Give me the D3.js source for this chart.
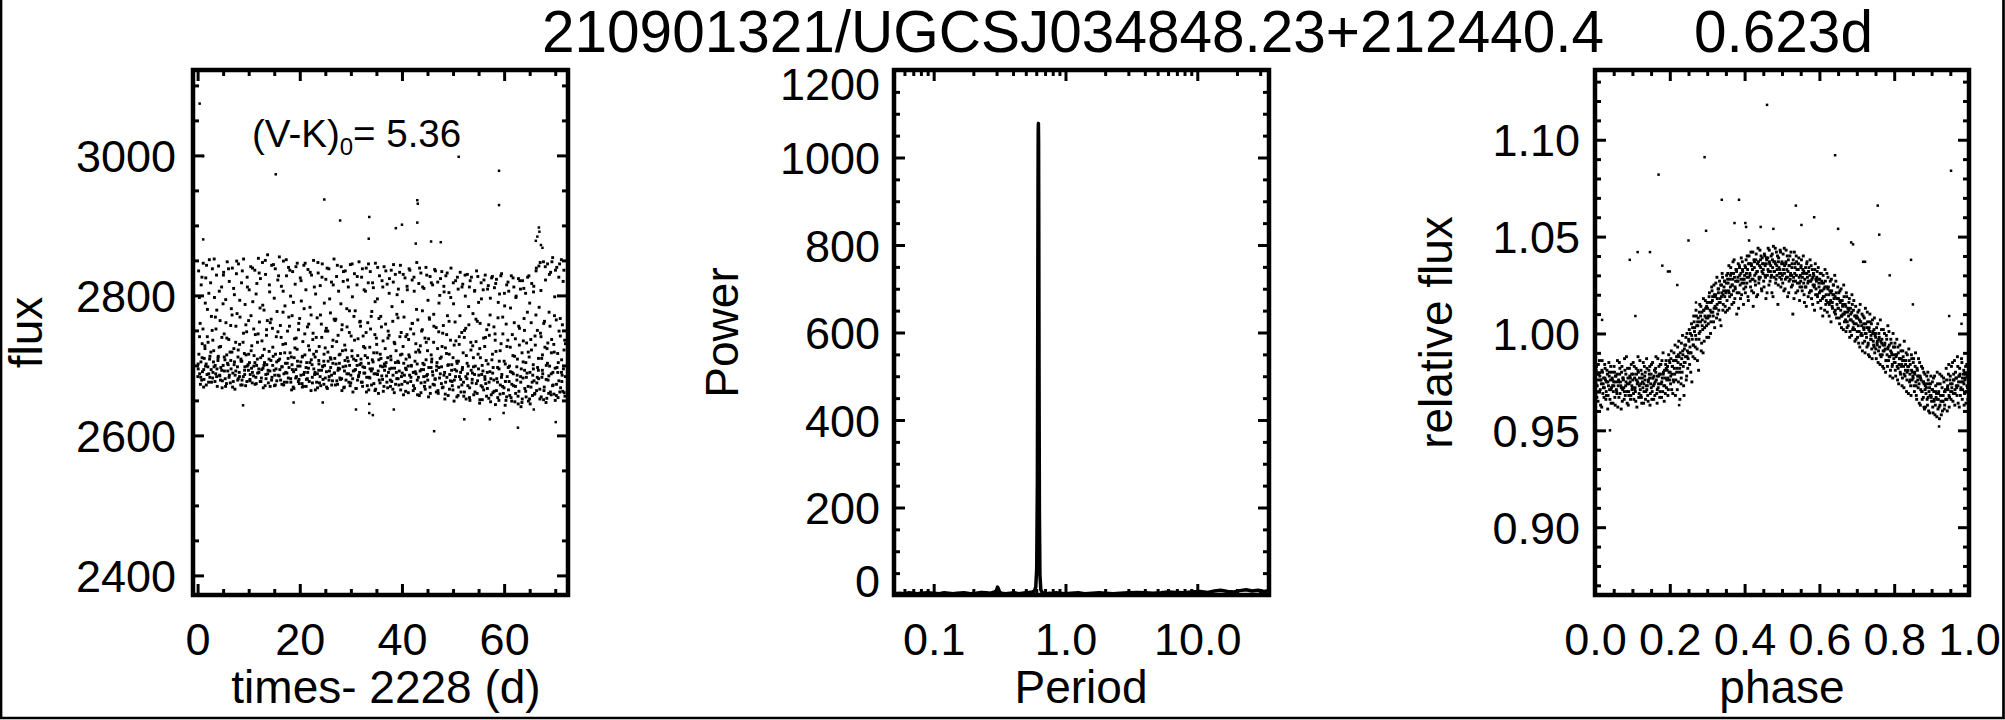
<!DOCTYPE html>
<html><head><meta charset="utf-8">
<script src="https://cdn.jsdelivr.net/npm/d3@7"></script>
<style>
html,body{margin:0;padding:0;background:#fff;}
svg{display:block;}
</style></head><body>
<svg id="c" width="2005" height="720"></svg>
<script>
// ---------- text ----------
const titleId = "210901321/UGCSJ034848.23+212440.4";
const titlePeriod = "0.623d";
const colorIndex = "5.36";

// ---------- panel 1: light curve (time - 2228 d, flux) ----------
const lcTicksX = [0, 20, 40, 60];
const lcMinorX = [5,10,15,25,30,35,45,50,55,65,70];
const lcTicksY = [2400, 2600, 2800, 3000];
const lcMinorY = [2450,2500,2550,2650,2700,2750,2850,2900,2950,3050,3100];
const lcPoints = [
[0.1,2702],[0.2,2835],[0.4,2688],[0.5,2760],[0.7,2815],[0.8,2679],[0.9,2731],[1.1,2846],[1.2,2694],[1.3,2710],[1.5,2789],[1.6,2825],[1.7,2672],[1.9,2741],[2.0,2698],[2.2,2803],[2.3,2851],[2.4,2683],[2.6,2719],[2.7,2770],[2.9,2838],[3.0,2690],[3.1,2705],[3.3,2797],[3.4,2677],[3.6,2752],[3.7,2829],[3.8,2695],[4.0,2711],[4.1,2842],[4.3,2686],[4.4,2764],[4.5,2727],[4.7,2812],[4.8,2668],[5.0,2700],[5.1,2833],[5.2,2745],[5.4,2681],[5.5,2794],[5.7,2715],[5.8,2848],[5.9,2692],[6.1,2737],[6.2,2820],[6.4,2675],[6.5,2707],[6.6,2781],[6.8,2839],[6.9,2689],[7.1,2724],[7.2,2801],[7.3,2666],[7.5,2756],[7.6,2831],[7.8,2698],[7.9,2712],[8.0,2845],[8.2,2684],[8.3,2769],[8.5,2706],[8.6,2818],[8.7,2679],[8.9,2733],[9.0,2852],[9.2,2693],[9.3,2787],[9.4,2671],[9.6,2748],[9.7,2826],[9.9,2701],[10.0,2716],
[10.1,2808],[10.3,2687],[10.4,2841],[10.6,2728],[10.7,2675],[10.8,2791],[11.0,2699],[11.2,2836],[11.3,2744],[11.4,2683],[11.6,2817],[11.7,2709],[11.9,2853],[12.0,2690],[12.1,2762],[12.3,2824],[12.4,2677],[12.6,2735],[12.7,2847],[12.8,2696],[13.0,2779],[13.1,2704],[13.3,2830],[13.4,2681],[13.5,2751],[13.7,2858],[13.8,2693],[14.0,2720],[14.1,2805],[14.2,2670],[14.4,2766],[14.5,2843],[14.7,2700],[14.8,2713],[15.0,2796],[15.1,2686],[15.2,2838],[15.4,2741],[15.5,2678],[15.7,2822],[15.8,2707],[16.0,2855],[16.1,2694],[16.2,2757],[16.4,2813],[16.5,2673],[16.7,2730],[16.8,2849],[16.9,2688],[17.1,2785],[17.2,2703],[17.4,2828],[17.5,2676],[17.6,2749],[17.8,2840],[17.9,2697],[18.1,2718],[18.2,2799],[18.4,2665],[18.5,2771],[18.6,2834],[18.8,2691],[18.9,2711],[19.1,2816],[19.2,2682],[19.3,2739],[19.5,2846],[19.6,2699],[19.8,2760],[19.9,2674],
[20.1,2825],[20.2,2705],[20.3,2792],[20.5,2669],[20.6,2734],[20.8,2843],[20.9,2690],[21.0,2715],[21.2,2808],[21.3,2680],[21.5,2755],[21.6,2837],[21.7,2696],[21.9,2722],[22.0,2783],[22.2,2664],[22.3,2829],[22.4,2701],[22.6,2746],[22.7,2850],[22.9,2687],[23.0,2712],[23.1,2802],[23.3,2676],[23.4,2768],[23.6,2832],[23.7,2693],[23.8,2727],[24.0,2814],[24.1,2671],[24.3,2740],[24.4,2845],[24.5,2698],[24.7,2706],[24.8,2789],[25.0,2682],[25.1,2823],[25.2,2753],[25.4,2667],[25.5,2719],[25.7,2838],[25.8,2692],[26.0,2775],[26.1,2709],[26.2,2819],[26.4,2678],[26.5,2736],[26.7,2852],[26.8,2689],[26.9,2764],[27.1,2702],[27.2,2827],[27.4,2673],[27.5,2743],[27.6,2806],[27.8,2695],[27.9,2716],[28.1,2841],[28.2,2681],[28.3,2758],[28.5,2820],[28.6,2668],[28.8,2729],[28.9,2835],[29.0,2699],[29.2,2781],[29.3,2711],[29.5,2812],[29.6,2676],[29.7,2747],[29.9,2844],
[30.0,2686],[30.2,2721],[30.3,2798],[30.4,2662],[30.6,2770],[30.7,2831],[30.9,2694],[31.0,2707],[31.2,2815],[31.3,2679],[31.4,2738],[31.6,2848],[31.7,2690],[31.9,2756],[32.0,2703],[32.1,2826],[32.3,2670],[32.4,2742],[32.6,2808],[32.7,2697],[32.8,2714],[33.0,2839],[33.1,2683],[33.3,2761],[33.4,2818],[33.5,2665],[33.7,2726],[33.8,2834],[34.0,2692],[34.1,2777],[34.2,2708],[34.4,2811],[34.5,2674],[34.7,2744],[34.8,2846],[34.9,2688],[35.1,2718],[35.2,2795],[35.4,2660],[35.5,2767],[35.6,2828],[35.8,2699],[35.9,2710],[36.1,2821],[36.2,2680],[36.3,2735],[36.5,2841],[36.6,2693],[36.8,2759],[36.9,2704],[37.1,2816],[37.2,2668],[37.3,2749],[37.5,2803],[37.6,2695],[37.8,2713],[37.9,2836],[38.0,2677],[38.2,2763],[38.3,2819],[38.5,2661],[38.6,2731],[38.7,2830],[38.9,2690],[39.0,2773],[39.2,2706],[39.3,2809],[39.4,2672],[39.6,2741],[39.7,2843],[39.9,2684],
[40.0,2716],[40.1,2791],[40.3,2658],[40.4,2769],[40.6,2825],[40.7,2696],[40.8,2709],[41.0,2813],[41.1,2675],[41.3,2737],[41.4,2838],[41.5,2686],[41.7,2752],[41.8,2700],[42.0,2822],[42.2,2664],[42.3,2745],[42.4,2806],[42.6,2691],[42.7,2719],[42.9,2847],[43.0,2679],[43.1,2765],[43.3,2817],[43.4,2657],[43.6,2728],[43.7,2832],[43.8,2694],[44.0,2778],[44.1,2703],[44.3,2810],[44.4,2670],[44.5,2739],[44.7,2840],[44.8,2685],[45.0,2721],[45.1,2793],[45.2,2655],[45.4,2766],[45.5,2827],[45.7,2697],[45.8,2705],[46.0,2815],[46.1,2673],[46.2,2733],[46.4,2837],[46.5,2681],[46.7,2754],[46.8,2699],[47.0,2819],[47.1,2660],[47.2,2748],[47.4,2800],[47.5,2688],[47.7,2712],[47.8,2834],[47.9,2668],[48.1,2757],[48.2,2813],[48.4,2652],[48.5,2725],[48.6,2828],[48.8,2683],[48.9,2771],[49.1,2701],[49.2,2804],[49.3,2666],[49.5,2736],[49.6,2839],[49.8,2677],
[50.0,2711],[50.1,2788],[50.2,2649],[50.4,2762],[50.5,2821],[50.7,2692],[50.8,2703],[51.0,2809],[51.1,2669],[51.2,2730],[51.4,2833],[51.5,2680],[51.7,2747],[51.8,2694],[51.9,2816],[52.1,2656],[52.2,2740],[52.4,2799],[52.5,2684],[52.6,2714],[52.8,2830],[52.9,2671],[53.1,2758],[53.2,2812],[53.3,2650],[53.5,2722],[53.6,2826],[53.8,2689],[53.9,2774],[54.0,2698],[54.2,2806],[54.3,2662],[54.5,2734],[54.6,2835],[54.8,2678],[54.9,2716],[55.0,2790],[55.2,2646],[55.3,2760],[55.5,2818],[55.6,2687],[55.7,2700],[55.9,2808],[56.0,2665],[56.2,2727],[56.3,2829],[56.4,2674],[56.6,2751],[56.7,2690],[56.9,2814],[57.0,2653],[57.1,2743],[57.3,2796],[57.4,2681],[57.6,2708],[57.7,2827],[57.8,2661],[58.0,2755],[58.1,2811],[58.3,2644],[58.4,2720],[58.5,2823],[58.7,2676],[58.8,2768],[59.0,2695],[59.1,2802],[59.2,2659],[59.4,2731],[59.5,2831],[59.7,2670],
[60.0,2706],[60.1,2785],[60.2,2643],[60.4,2759],[60.5,2815],[60.6,2684],[60.8,2697],[60.9,2806],[61.1,2657],[61.2,2726],[61.4,2828],[61.5,2673],[61.6,2744],[61.8,2688],[61.9,2812],[62.1,2648],[62.2,2738],[62.3,2797],[62.5,2679],[62.6,2709],[62.8,2824],[62.9,2663],[63.0,2753],[63.2,2809],[63.3,2641],[63.5,2718],[63.6,2821],[63.7,2682],[63.9,2767],[64.0,2693],[64.2,2803],[64.3,2655],[64.4,2732],[64.6,2826],[64.7,2670],[64.9,2712],[65.0,2789],[65.1,2645],[65.3,2761],[65.4,2817],[65.6,2686],[65.7,2701],[65.8,2813],[66.0,2660],[66.1,2729],[66.3,2839],[66.4,2675],[66.5,2750],[66.7,2693],[66.8,2842],[67.0,2652],[67.1,2746],[67.2,2807],[67.4,2683],[67.5,2715],[67.7,2848],[67.8,2664],[67.9,2763],[68.1,2822],[68.2,2647],[68.4,2724],[68.5,2845],[68.6,2679],[68.8,2776],[68.9,2699],[69.1,2833],[69.2,2658],[69.3,2737],[69.5,2854],[69.6,2672],[69.8,2719],[69.9,2798],[70.0,2650],[70.2,2765],[70.3,2840],[70.5,2690],[70.6,2704],[70.7,2826],[70.9,2662],[71.0,2742],[71.2,2851],[71.3,2677],[71.4,2758],[71.6,2695],[71.7,2836],[71.9,2656],[72.0,2731],
[0.05,2684],[0.25,2716],[0.35,2797],[0.55,2673],[0.65,2705],[0.85,2826],[0.95,2691],[1.05,2752],[1.25,2680],[1.45,2724],[1.55,2699],[1.75,2843],[1.85,2687],[2.05,2733],[2.15,2676],[2.35,2709],[2.55,2818],[2.65,2694],[2.85,2750],[2.95,2682],[3.15,2721],[3.25,2852],[3.45,2700],[3.55,2688],[3.75,2779],[3.85,2670],[4.05,2713],[4.25,2806],[4.35,2685],[4.55,2697],[4.75,2740],[4.85,2678],[5.05,2829],[5.25,2692],[5.35,2708],[5.55,2761],[5.65,2674],[5.85,2703],[6.05,2838],[6.15,2683],[6.35,2719],[6.55,2695],[6.75,2772],[6.85,2669],[7.05,2810],[7.15,2701],[7.35,2686],[7.45,2733],[7.65,2849],[7.85,2679],[7.95,2722],[8.15,2690],[8.25,2793],[8.45,2672],[8.65,2706],[8.75,2835],[8.95,2684],[9.15,2717],[9.25,2698],[9.45,2758],[9.65,2677],[9.75,2812],[9.95,2693],
[10.15,2704],[10.25,2680],[10.45,2771],[10.55,2696],[10.75,2839],[10.95,2685],[11.05,2714],[11.25,2673],[11.45,2802],[11.55,2700],[11.75,2689],[11.85,2745],[12.05,2832],[12.25,2677],[12.35,2711],[12.55,2694],[12.75,2786],[12.85,2668],[13.05,2723],[13.25,2850],[13.35,2687],[13.55,2701],[13.65,2764],[13.85,2675],[14.05,2815],[14.15,2692],[14.35,2707],[14.55,2683],[14.65,2753],[14.85,2844],[15.05,2671],[15.25,2716],[15.35,2695],[15.55,2777],[15.75,2686],[15.85,2828],[16.05,2709],[16.25,2679],[16.35,2740],[16.55,2698],[16.75,2806],[16.85,2672],[17.05,2718],[17.25,2690],[17.35,2851],[17.55,2703],[17.75,2682],[17.85,2769],[18.05,2836],[18.25,2676],[18.35,2712],[18.55,2694],[18.75,2790],[18.85,2667],[19.05,2725],[19.25,2841],[19.35,2684],[19.55,2706],[19.75,2751],[19.85,2680],
[20.05,2699],[20.25,2821],[20.45,2674],[20.55,2713],[20.75,2687],[20.85,2781],[21.05,2846],[21.25,2670],[21.35,2704],[21.55,2690],[21.75,2759],[21.85,2677],[22.05,2833],[22.25,2708],[22.45,2683],[22.55,2737],[22.75,2695],[22.85,2812],[23.05,2665],[23.25,2720],[23.45,2688],[23.55,2847],[23.75,2702],[23.85,2675],[24.05,2772],[24.25,2693],[24.35,2826],[24.55,2680],[24.75,2716],[24.85,2700],[25.05,2749],[25.25,2669],[25.35,2839],[25.55,2706],[25.75,2684],[25.85,2795],[26.05,2697],[26.25,2672],[26.35,2727],[26.55,2815],[26.75,2689],[26.85,2710],[27.05,2766],[27.25,2678],[27.35,2843],[27.55,2696],[27.75,2703],[27.85,2682],[28.05,2788],[28.25,2664],[28.35,2721],[28.55,2834],[28.75,2692],[28.85,2707],[29.05,2679],[29.25,2755],[29.35,2822],[29.55,2688],[29.75,2700],[29.85,2671],
[30.05,2742],[30.25,2845],[30.35,2681],[30.55,2709],[30.75,2693],[30.85,2778],[31.05,2667],[31.25,2827],[31.35,2714],[31.55,2686],[31.75,2701],[31.85,2763],[32.05,2676],[32.25,2838],[32.35,2698],[32.55,2689],[32.75,2725],[32.85,2806],[33.05,2662],[33.25,2711],[33.45,2845],[33.55,2683],[33.75,2695],[33.85,2752],[34.05,2672],[34.25,2818],[34.35,2705],[34.55,2688],[34.75,2791],[34.85,2666],[35.05,2730],[35.25,2840],[35.35,2692],[35.55,2679],[35.75,2716],[35.85,2770],[36.05,2685],[36.25,2812],[36.35,2663],[36.55,2702],[36.75,2699],[36.85,2835],[37.05,2676],[37.25,2739],[37.35,2690],[37.55,2824],[37.75,2670],[37.85,2708],[38.05,2784],[38.25,2686],[38.35,2844],[38.55,2696],[38.75,2673],[38.85,2721],[39.05,2801],[39.25,2681],[39.35,2704],[39.55,2833],[39.75,2665],[39.85,2747],
[40.05,2689],[40.25,2830],[40.35,2703],[40.55,2677],[40.75,2741],[40.85,2694],[41.05,2808],[41.25,2661],[41.35,2715],[41.55,2836],[41.75,2683],[41.85,2699],[42.05,2760],[42.25,2671],[42.35,2826],[42.55,2706],[42.75,2688],[42.85,2780],[43.05,2658],[43.25,2722],[43.45,2839],[43.55,2692],[43.75,2675],[43.85,2749],[44.05,2812],[44.25,2684],[44.35,2701],[44.55,2666],[44.75,2733],[44.85,2829],[45.05,2679],[45.25,2697],[45.35,2768],[45.55,2660],[45.75,2818],[45.85,2709],[46.05,2686],[46.25,2756],[46.35,2672],[46.55,2835],[46.75,2693],[46.85,2704],[47.05,2664],[47.25,2789],[47.35,2682],[47.55,2824],[47.75,2698],[47.85,2727],[48.05,2669],[48.25,2805],[48.35,2690],[48.55,2676],[48.75,2744],[48.85,2832],[49.05,2657],[49.25,2716],[49.35,2687],[49.55,2797],[49.75,2701],[49.85,2671],
[50.05,2818],[50.25,2679],[50.35,2694],[50.55,2735],[50.75,2655],[50.85,2826],[51.05,2706],[51.25,2684],[51.35,2771],[51.55,2662],[51.75,2812],[51.85,2697],[52.05,2676],[52.25,2750],[52.35,2829],[52.55,2652],[52.75,2703],[52.85,2688],[53.05,2784],[53.25,2668],[53.35,2821],[53.55,2693],[53.75,2680],[53.85,2728],[54.05,2658],[54.25,2807],[54.35,2699],[54.55,2674],[54.75,2763],[54.85,2827],[55.05,2686],[55.25,2651],[55.35,2711],[55.55,2795],[55.75,2669],[55.85,2692],[56.05,2822],[56.25,2680],[56.35,2740],[56.55,2656],[56.75,2809],[56.85,2702],[57.05,2676],[57.25,2772],[57.35,2648],[57.55,2825],[57.75,2689],[57.85,2697],[58.05,2663],[58.25,2736],[58.35,2817],[58.55,2681],[58.75,2654],[58.85,2790],[59.05,2706],[59.25,2672],[59.35,2828],[59.55,2687],[59.75,2745],[59.85,2660],
[60.05,2803],[60.25,2677],[60.35,2650],[60.55,2727],[60.75,2819],[60.85,2665],[61.05,2699],[61.25,2782],[61.35,2654],[61.55,2690],[61.75,2825],[61.85,2671],[62.05,2713],[62.25,2660],[62.35,2799],[62.55,2686],[62.75,2645],[62.85,2756],[63.05,2821],[63.25,2676],[63.35,2695],[63.55,2652],[63.75,2735],[63.85,2810],[64.05,2667],[64.25,2704],[64.35,2683],[64.55,2776],[64.75,2649],[64.85,2828],[65.05,2690],[65.25,2669],[65.35,2722],[65.55,2657],[65.75,2805],[65.85,2678],[66.05,2742],[66.25,2835],[66.35,2664],[66.55,2697],[66.75,2681],[66.85,2783],[67.05,2847],[67.25,2655],[67.35,2710],[67.55,2688],[67.75,2760],[67.85,2669],[68.05,2841],[68.25,2700],[68.35,2653],[68.55,2732],[68.75,2685],[68.85,2830],[69.05,2662],[69.25,2718],[69.35,2848],[69.55,2690],[69.75,2659],[69.85,2771],[70.05,2836],[70.25,2673],[70.35,2697],[70.55,2654],[70.75,2749],[70.85,2845],[71.05,2668],[71.25,2708],[71.35,2686],[71.55,2820],[71.75,2661],[71.85,2736],
[0.12,2695],[0.38,2741],[0.62,2683],[0.88,2711],[1.18,2669],[1.42,2728],[1.68,2702],[1.92,2780],[2.18,2688],[2.42,2713],[2.72,2676],[2.98,2736],[3.22,2698],[3.48,2769],[3.72,2684],[3.98,2707],[4.22,2726],[4.48,2679],[4.72,2693],[4.98,2788],[5.22,2712],[5.48,2670],[5.72,2739],[5.98,2701],[6.22,2686],[6.48,2757],[6.72,2719],[6.98,2677],[7.22,2705],[7.48,2692],[7.72,2774],[7.98,2681],[8.22,2730],[8.48,2709],[8.72,2672],[8.98,2746],[9.22,2687],[9.48,2715],[9.72,2699],[9.98,2764],
[10.22,2678],[10.48,2721],[10.72,2690],[10.98,2752],[11.22,2704],[11.48,2674],[11.72,2733],[11.98,2695],[12.22,2782],[12.48,2682],[12.72,2714],[12.98,2700],[13.22,2671],[13.48,2743],[13.72,2688],[13.98,2709],[14.22,2761],[14.48,2679],[14.72,2726],[14.98,2693],[15.22,2672],[15.48,2705],[15.72,2748],[15.98,2685],[16.22,2717],[16.48,2698],[16.72,2776],[16.98,2676],[17.22,2731],[17.48,2689],[17.72,2710],[17.98,2756],[18.22,2681],[18.48,2701],[18.72,2669],[18.98,2738],[19.22,2694],[19.48,2723],[19.72,2677],[19.98,2767],
[20.22,2686],[20.48,2712],[20.72,2670],[20.98,2745],[21.22,2697],[21.48,2681],[21.72,2728],[21.98,2704],[22.22,2772],[22.48,2675],[22.72,2716],[22.98,2690],[23.22,2740],[23.48,2668],[23.72,2707],[23.98,2684],[24.22,2759],[24.48,2699],[24.72,2673],[24.98,2725],[25.22,2691],[25.48,2749],[25.72,2679],[25.98,2711],[26.22,2686],[26.48,2703],[26.72,2766],[26.98,2672],[27.22,2734],[27.48,2693],[27.72,2715],[27.98,2680],[28.22,2751],[28.48,2698],[28.72,2669],[28.98,2722],[29.22,2688],[29.48,2706],[29.72,2778],[29.98,2675],
[30.22,2713],[30.48,2692],[30.72,2736],[30.98,2667],[31.22,2700],[31.48,2684],[31.72,2762],[31.98,2709],[32.22,2676],[32.48,2727],[32.72,2689],[32.98,2747],[33.22,2671],[33.48,2703],[33.72,2682],[33.98,2770],[34.22,2695],[34.48,2718],[34.72,2664],[34.98,2739],[35.22,2687],[35.48,2708],[35.72,2675],[35.98,2755],[36.22,2698],[36.48,2670],[36.72,2724],[36.98,2685],[37.22,2711],[37.48,2743],[37.72,2679],[37.98,2696],[38.22,2666],[38.48,2733],[38.72,2704],[38.98,2681],[39.22,2768],[39.48,2692],[39.72,2715],[39.98,2673],
[40.22,2727],[40.48,2686],[40.72,2663],[40.98,2744],[41.22,2699],[41.48,2712],[41.72,2677],[41.98,2760],[42.22,2690],[42.48,2667],[42.72,2731],[42.98,2702],[43.22,2683],[43.48,2719],[43.72,2661],[43.98,2751],[44.22,2694],[44.48,2676],[44.72,2708],[44.98,2687],[45.22,2738],[45.48,2669],[45.72,2715],[45.98,2691],[46.22,2773],[46.48,2680],[46.72,2662],[46.98,2724],[47.22,2697],[47.48,2710],[47.72,2674],[47.98,2746],[48.22,2686],[48.48,2659],[48.72,2717],[48.98,2700],[49.22,2763],[49.48,2678],[49.72,2693],[49.98,2665],
[50.22,2729],[50.48,2684],[50.72,2706],[50.98,2657],[51.22,2741],[51.48,2690],[51.72,2672],[51.98,2718],[52.22,2662],[52.48,2753],[52.72,2681],[52.98,2699],[53.22,2654],[53.48,2733],[53.72,2675],[53.98,2711],[54.22,2687],[54.48,2766],[54.72,2660],[54.98,2695],[55.22,2724],[55.48,2671],[55.72,2651],[55.98,2739],[56.22,2684],[56.48,2707],[56.72,2667],[56.98,2758],[57.22,2691],[57.48,2658],[57.72,2716],[57.98,2679],[58.22,2745],[58.48,2664],[58.72,2697],[58.98,2650],[59.22,2721],[59.48,2683],[59.72,2769],[59.98,2668],
[60.22,2702],[60.48,2655],[60.72,2736],[60.98,2677],[61.22,2691],[61.48,2649],[61.72,2714],[61.98,2761],[62.22,2670],[62.48,2698],[62.72,2656],[62.98,2729],[63.22,2684],[63.48,2647],[63.72,2705],[63.98,2750],[64.22,2663],[64.48,2689],[64.72,2719],[64.98,2652],[65.22,2737],[65.48,2676],[65.72,2695],[65.98,2659],[66.22,2772],[66.48,2683],[66.72,2710],[66.98,2666],[67.22,2741],[67.48,2693],[67.72,2651],[67.98,2726],[68.22,2680],[68.48,2703],[68.72,2660],[68.98,2756],[69.22,2688],[69.48,2671],[69.72,2730],[69.98,2696],[70.22,2657],[70.48,2717],[70.72,2678],[70.98,2767],[71.22,2690],[71.48,2663],[71.72,2722],[71.98,2684]
];
const lcOutliers = [
[0.4,3074],[1.1,2999],[15.3,2973],[51.1,2998],[59.0,2978],[24.8,2937],[43.0,2936],[43.1,2931],[59.0,2929],[33.6,2912],[27.9,2907],[38.8,2896],[40.0,2901],[43.0,2904],[66.8,2897],[66.9,2891],[66.5,2884],[67.2,2872],[67.5,2868],[66.2,2878],[33.5,2881],[1.1,2880],[47.6,2876],[45.7,2877],[42.7,2874],
[46.3,2606],[62.7,2611],[70.1,2619],[33.6,2645],[33.6,2632],[31.0,2637],[34.3,2629],[38.4,2637],[18.8,2647],[24.5,2647],[8.9,2643],[52.2,2623],[57.2,2623],[59.9,2632],[65.8,2637]
];

// ---------- panel 2: periodogram ----------
const pgTicksX = [0.1, 1, 10];
const pgTickLabels = ["0.1", "1.0", "10.0"];
const pgMinorX = [0.05,0.06,0.07,0.08,0.09,0.2,0.3,0.4,0.5,0.6,0.7,0.8,0.9,2,3,4,5,6,7,8,9,20,30];
const pgTicksY = [0, 200, 400, 600, 800, 1000, 1200];
const pgMinorY = [50,100,150,250,300,350,450,500,550,650,700,750,850,900,950,1050,1100,1150];
const pgPeriod = [0.05,0.055,0.06,0.065,0.07,0.075,0.08,0.09,0.10,0.11,0.12,0.13,0.14,0.15,0.17,0.19,0.21,0.23,0.25,0.27,0.29,0.30,0.305,0.31,0.315,0.32,0.33,0.35,0.38,0.41,0.44,0.47,0.50,0.53,0.56,0.58,0.595,0.605,0.612,0.616,0.619,0.621,0.623,0.625,0.627,0.630,0.634,0.640,0.650,0.665,0.69,0.72,0.76,0.80,0.85,0.9,1.0,1.1,1.25,1.4,1.6,1.8,2.0,2.3,2.6,3.0,3.5,4.0,4.6,5.3,6.0,7.0,8.0,9.0,10.5,12,13.5,15,17,19,21,23.5,26,29,32,35];
const pgPower = [3,4,3,5,4,3,4,5,4,3,5,4,3,4,5,3,4,6,5,4,7,11,18,14,8,5,4,3,4,5,3,4,5,6,7,9,18,60,260,640,940,1060,1078,1040,880,520,190,45,12,6,4,3,4,3,5,4,3,4,5,3,4,5,4,3,4,5,6,5,4,5,7,6,5,7,8,6,9,11,8,7,10,12,9,11,8,10];

// ---------- panel 3: phased light curve ----------
const phTicksX = [0, 0.2, 0.4, 0.6, 0.8, 1.0];
const phTickLabels = ["0.0", "0.2", "0.4", "0.6", "0.8", "1.0"];
const phMinorX = [0.05,0.1,0.15,0.25,0.3,0.35,0.45,0.5,0.55,0.65,0.7,0.75,0.85,0.9,0.95];
const phTicksY = [0.90, 0.95, 1.00, 1.05, 1.10];
const phTickLabelsY = ["0.90", "0.95", "1.00", "1.05", "1.10"];
const phMinorY = [0.87,0.88,0.89,0.91,0.92,0.93,0.94,0.96,0.97,0.98,0.99,1.01,1.02,1.03,1.04,1.06,1.07,1.08,1.09,1.11,1.12,1.13];
const phPoints = [
[.001,.972],[.003,.981],[.005,.967],[.007,.976],[.009,.984],[.011,.970],[.013,.978],[.015,.963],[.017,.974],[.019,.986],[.021,.969],[.023,.977],[.025,.972],[.027,.982],[.029,.966],[.031,.975],[.033,.979],[.035,.968],[.037,.985],[.039,.971],[.041,.976],[.043,.964],[.045,.980],[.047,.973],[.049,.970],
[.051,.983],[.053,.967],[.055,.975],[.057,.971],[.059,.979],[.061,.962],[.063,.976],[.065,.985],[.067,.969],[.069,.973],[.071,.980],[.073,.965],[.075,.977],[.077,.972],[.079,.987],[.081,.968],[.083,.975],[.085,.970],[.087,.982],[.089,.963],[.091,.974],[.093,.978],[.095,.966],[.097,.984],[.099,.971],
[.101,.976],[.103,.969],[.105,.983],[.107,.972],[.109,.965],[.111,.979],[.113,.974],[.115,.988],[.117,.967],[.119,.977],[.121,.971],[.123,.981],[.125,.964],[.127,.975],[.129,.985],[.131,.970],[.133,.978],[.135,.966],[.137,.973],[.139,.982],[.141,.968],[.143,.976],[.145,.979],[.147,.963],[.149,.974],
[.151,.984],[.153,.970],[.155,.977],[.157,.966],[.159,.981],[.161,.975],[.163,.988],[.165,.969],[.167,.978],[.169,.972],[.171,.983],[.173,.967],[.175,.979],[.177,.974],[.179,.986],[.181,.970],[.183,.980],[.185,.965],[.187,.977],[.189,.984],[.191,.972],[.193,.981],[.195,.968],[.197,.989],[.199,.976],
[.201,.980],[.203,.987],[.205,.971],[.207,.983],[.209,.976],[.211,.990],[.213,.979],[.215,.968],[.217,.986],[.219,.982],[.221,.993],[.223,.975],[.225,.988],[.227,.966],[.229,.984],[.231,.995],[.233,.980],[.235,.989],[.237,.973],[.239,.992],[.241,.985],[.243,.998],[.245,.978],[.247,.991],[.249,.987],
[.251,.996],[.253,.984],[.255,1.000],[.257,.990],[.259,.975],[.261,1.003],[.263,.994],[.265,1.006],[.267,.987],[.269,.999],[.271,1.009],[.273,.992],[.275,1.004],[.277,.981],[.279,1.011],[.281,1.001],[.283,1.014],[.285,.995],[.287,1.007],[.289,.990],[.291,1.012],[.293,1.003],[.295,1.017],[.297,1.008],[.299,.998],
[.301,1.013],[.303,1.005],[.305,1.019],[.307,1.009],[.309,1.000],[.311,1.016],[.313,1.022],[.315,1.011],[.317,1.006],[.319,1.020],[.321,1.014],[.323,1.026],[.325,1.008],[.327,1.018],[.329,1.023],[.331,1.012],[.333,1.027],[.335,1.016],[.337,1.004],[.339,1.021],[.341,1.029],[.343,1.015],[.345,1.024],[.347,1.019],[.349,1.011],
[.351,1.026],[.353,1.017],[.355,1.031],[.357,1.022],[.359,1.013],[.361,1.028],[.363,1.034],[.365,1.020],[.367,1.025],[.369,1.037],[.371,1.016],[.373,1.029],[.375,1.023],[.377,1.033],[.379,1.010],[.381,1.027],[.383,1.036],[.385,1.021],[.387,1.030],[.389,1.018],[.391,1.039],[.393,1.026],[.395,1.032],[.397,1.015],[.399,1.028],
[.401,1.035],[.403,1.024],[.405,1.031],[.407,1.040],[.409,1.019],[.411,1.029],[.413,1.036],[.415,1.027],[.417,1.042],[.419,1.022],[.421,1.033],[.423,1.014],[.425,1.038],[.427,1.030],[.429,1.025],[.431,1.041],[.433,1.032],[.435,1.020],[.437,1.037],[.439,1.028],[.441,1.043],[.443,1.034],[.445,1.023],[.447,1.039],[.449,1.031],
[.451,1.027],[.453,1.041],[.455,1.035],[.457,1.018],[.459,1.038],[.461,1.030],[.463,1.044],[.465,1.025],[.467,1.036],[.469,1.032],[.471,1.040],[.473,1.021],[.475,1.034],[.477,1.045],[.479,1.029],[.481,1.037],[.483,1.026],[.485,1.042],[.487,1.033],[.489,1.015],[.491,1.039],[.493,1.031],[.495,1.043],[.497,1.024],[.499,1.036],
[.501,1.030],[.503,1.041],[.505,1.022],[.507,1.035],[.509,1.028],[.511,1.043],[.513,1.033],[.515,1.019],[.517,1.038],[.519,1.027],[.521,1.040],[.523,1.031],[.525,1.024],[.527,1.036],[.529,1.010],[.531,1.029],[.533,1.042],[.535,1.034],[.537,1.021],[.539,1.037],[.541,1.026],[.543,1.033],[.545,1.039],[.547,1.017],[.549,1.030],
[.551,1.035],[.553,1.024],[.555,1.031],[.557,1.040],[.559,1.020],[.561,1.028],[.563,1.034],[.565,1.014],[.567,1.037],[.569,1.026],[.571,1.032],[.573,1.021],[.575,1.038],[.577,1.027],[.579,1.018],[.581,1.033],[.583,1.025],[.585,1.030],[.587,1.012],[.589,1.036],[.591,1.023],[.593,1.029],[.595,1.019],[.597,1.034],[.599,1.024],
[.601,1.028],[.603,1.017],[.605,1.031],[.607,1.022],[.609,1.009],[.611,1.026],[.613,1.019],[.615,1.033],[.617,1.015],[.619,1.024],[.621,1.011],[.623,1.029],[.625,1.020],[.627,1.016],[.629,1.027],[.631,1.006],[.633,1.022],[.635,1.013],[.637,1.025],[.639,1.018],[.641,1.030],[.643,1.010],[.645,1.021],[.647,1.015],[.649,1.024],
[.651,1.018],[.653,1.008],[.655,1.022],[.657,1.012],[.659,1.003],[.661,1.017],[.663,1.010],[.665,1.025],[.667,1.006],[.669,1.015],[.671,1.001],[.673,1.019],[.675,1.011],[.677,1.004],[.679,1.016],[.681,.998],[.683,1.013],[.685,1.007],[.687,1.020],[.689,1.002],[.691,1.012],[.693,1.005],[.695,.996],[.697,1.014],[.699,1.008],
[.701,1.001],[.703,1.011],[.705,.995],[.707,1.007],[.709,1.015],[.711,.999],[.713,1.004],[.715,.991],[.717,1.009],[.719,1.002],[.721,.996],[.723,1.013],[.725,1.000],[.727,.993],[.729,1.006],[.731,.989],[.733,1.003],[.735,1.010],[.737,.997],[.739,1.005],[.741,.987],[.743,1.001],[.745,.994],[.747,1.008],[.749,.999],
[.751,.992],[.753,1.003],[.755,.996],[.757,.985],[.759,1.000],[.761,.993],[.763,1.007],[.765,.988],[.767,.997],[.769,.983],[.771,1.002],[.773,.991],[.775,.995],[.777,.980],[.779,.999],[.781,.989],[.783,1.004],[.785,.986],[.787,.994],[.789,.978],[.791,.997],[.793,.990],[.795,.984],[.797,1.000],[.799,.987],
[.801,.993],[.803,.981],[.805,.988],[.807,.997],[.809,.976],[.811,.990],[.813,.984],[.815,.994],[.817,.979],[.819,.987],[.821,.973],[.823,.991],[.825,.983],[.827,.996],[.829,.978],[.831,.986],[.833,.970],[.835,.989],[.837,.981],[.839,.992],[.841,.975],[.843,.984],[.845,.968],[.847,.987],[.849,.980],
[.851,.985],[.853,.973],[.855,.979],[.857,.990],[.859,.968],[.861,.982],[.863,.976],[.865,.987],[.867,.964],[.869,.978],[.871,.971],[.873,.983],[.875,.966],[.877,.975],[.879,.980],[.881,.961],[.883,.973],[.885,.969],[.887,.978],[.889,.963],[.891,.976],[.893,.970],[.895,.959],[.897,.974],[.899,.967],
[.901,.971],[.903,.962],[.905,.977],[.907,.966],[.909,.958],[.911,.973],[.913,.969],[.915,.980],[.917,.961],[.919,.970],[.921,.956],[.923,.974],[.925,.965],[.927,.978],[.929,.960],[.931,.968],[.933,.975],[.935,.963],[.937,.971],[.939,.982],[.941,.966],[.943,.973],[.945,.979],[.947,.962],[.949,.976],
[.951,.970],[.953,.983],[.955,.974],[.957,.965],[.959,.979],[.961,.986],[.963,.969],[.965,.977],[.967,.972],[.969,.988],[.971,.964],[.973,.978],[.975,.982],[.977,.968],[.979,.975],[.981,.985],[.983,.971],[.985,.979],[.987,.963],[.989,.976],[.991,.983],[.993,.970],[.995,.978],[.997,.966],[.999,.974],
[.000,.977],[.002,.968],[.004,.983],[.006,.973],[.008,.965],[.010,.979],[.012,.986],[.014,.971],[.016,.976],[.018,.962],[.020,.980],[.022,.974],[.024,.967],[.026,.984],[.028,.976],[.030,.970],[.032,.981],[.034,.961],[.036,.973],[.038,.978],[.040,.966],[.042,.983],[.044,.972],[.046,.977],[.048,.964],
[.050,.975],[.052,.980],[.054,.963],[.056,.978],[.058,.970],[.060,.986],[.062,.973],[.064,.967],[.066,.979],[.068,.975],[.070,.961],[.072,.983],[.074,.971],[.076,.976],[.078,.966],[.080,.981],[.082,.973],[.084,.988],[.086,.964],[.088,.977],[.090,.970],[.092,.982],[.094,.975],[.096,.968],[.098,.979],
[.100,.972],[.102,.985],[.104,.966],[.106,.977],[.108,.970],[.110,.982],[.112,.962],[.114,.975],[.116,.980],[.118,.969],[.120,.986],[.122,.974],[.124,.967],[.126,.979],[.128,.972],[.130,.964],[.132,.983],[.134,.976],[.136,.970],[.138,.987],[.140,.973],[.142,.965],[.144,.981],[.146,.977],[.148,.969],
[.150,.979],[.152,.966],[.154,.985],[.156,.973],[.158,.978],[.160,.968],[.162,.982],[.164,.976],[.166,.964],[.168,.987],[.170,.974],[.172,.979],[.174,.970],[.176,.984],[.178,.967],[.180,.977],[.182,.990],[.184,.973],[.186,.981],[.188,.969],[.190,.986],[.192,.976],[.194,.983],[.196,.971],[.198,.980],
[.200,.985],[.202,.974],[.204,.991],[.206,.979],[.208,.969],[.210,.986],[.212,.982],[.214,.994],[.216,.976],[.218,.988],[.220,.971],[.222,.985],[.224,.996],[.226,.980],[.228,.990],[.230,.974],[.232,.987],[.234,.999],[.236,.983],[.238,.968],[.240,.994],[.242,.988],[.244,.976],[.246,1.000],[.248,.982],
[.250,.990],[.252,1.002],[.254,.993],[.256,.980],[.258,1.005],[.260,.997],[.262,.988],[.264,1.009],[.266,1.001],[.268,.993],[.270,1.012],[.272,1.004],[.274,.986],[.276,1.008],[.278,.997],[.280,1.015],[.282,1.006],[.284,.991],[.286,1.011],[.288,1.002],[.290,1.018],[.292,.996],[.294,1.009],[.296,1.013],[.298,1.004],
[.300,1.016],[.302,1.008],[.304,.998],[.306,1.021],[.308,1.012],[.310,1.006],[.312,1.024],[.314,1.017],[.316,1.009],[.318,1.025],[.320,1.003],[.322,1.019],[.324,1.013],[.326,1.029],[.328,1.010],[.330,1.021],[.332,1.016],[.334,1.007],[.336,1.025],[.338,1.019],[.340,1.031],[.342,1.012],[.344,1.022],[.346,1.027],[.348,1.014],
[.350,1.021],[.352,1.030],[.354,1.012],[.356,1.026],[.358,1.035],[.360,1.019],[.362,1.024],[.364,1.031],[.366,1.015],[.368,1.028],[.370,1.022],[.372,1.038],[.374,1.018],[.376,1.027],[.378,1.033],[.380,1.021],[.382,1.029],[.384,1.013],[.386,1.035],[.388,1.025],[.390,1.031],[.392,1.020],[.394,1.037],[.396,1.028],[.398,1.023],
[.400,1.030],[.402,1.021],[.404,1.038],[.406,1.026],[.408,1.033],[.410,1.017],[.412,1.040],[.414,1.031],[.416,1.024],[.418,1.036],[.420,1.028],[.422,1.042],[.424,1.021],[.426,1.034],[.428,1.027],[.430,1.038],[.432,1.019],[.434,1.032],[.436,1.044],[.438,1.026],[.440,1.035],[.442,1.029],[.444,1.040],[.446,1.022],[.448,1.036],
[.450,1.033],[.452,1.024],[.454,1.040],[.456,1.029],[.458,1.036],[.460,1.021],[.462,1.039],[.464,1.032],[.466,1.043],[.468,1.027],[.470,1.035],[.472,1.030],[.474,1.041],[.476,1.019],[.478,1.037],[.480,1.032],[.482,1.044],[.484,1.028],[.486,1.035],[.488,1.040],[.490,1.025],[.492,1.034],[.494,1.029],[.496,1.042],[.498,1.031],
[.500,1.037],[.502,1.026],[.504,1.033],[.506,1.044],[.508,1.023],[.510,1.036],[.512,1.029],[.514,1.040],[.516,1.032],[.518,1.021],[.520,1.035],[.522,1.028],[.524,1.042],[.526,1.030],[.528,1.025],[.530,1.038],[.532,1.018],[.534,1.031],[.536,1.027],[.538,1.040],[.540,1.033],[.542,1.022],[.544,1.036],[.546,1.029],[.548,1.024],
[.550,1.027],[.552,1.038],[.554,1.022],[.556,1.033],[.558,1.026],[.560,1.016],[.562,1.031],[.564,1.024],[.566,1.036],[.568,1.029],[.570,1.019],[.572,1.034],[.574,1.027],[.576,1.022],[.578,1.035],[.580,1.028],[.582,1.015],[.584,1.031],[.586,1.024],[.588,1.033],[.590,1.020],[.592,1.027],[.594,1.032],[.596,1.016],[.598,1.028],
[.600,1.021],[.602,1.031],[.604,1.013],[.606,1.026],[.608,1.018],[.610,1.030],[.612,1.023],[.614,1.012],[.616,1.027],[.618,1.020],[.620,1.031],[.622,1.016],[.624,1.024],[.626,1.009],[.628,1.022],[.630,1.017],[.632,1.028],[.634,1.014],[.636,1.020],[.638,1.025],[.640,1.011],[.642,1.019],[.644,1.027],[.646,1.008],[.648,1.018],
[.650,1.013],[.652,1.021],[.654,1.005],[.656,1.016],[.658,1.023],[.660,1.009],[.662,1.014],[.664,1.002],[.666,1.019],[.668,1.011],[.670,1.007],[.672,1.021],[.674,1.003],[.676,1.013],[.678,1.009],[.680,1.018],[.682,1.001],[.684,1.010],[.686,.999],[.688,1.015],[.690,1.006],[.692,1.017],[.694,1.002],[.696,1.009],[.698,.997],
[.700,1.009],[.702,.998],[.704,1.004],[.706,1.012],[.708,.993],[.710,1.006],[.712,1.000],[.714,1.010],[.716,.995],[.718,1.003],[.720,1.008],[.722,.990],[.724,1.005],[.726,.998],[.728,1.011],[.730,.994],[.732,1.002],[.734,.988],[.736,1.006],[.738,.999],[.740,.992],[.742,1.007],[.744,.996],[.746,1.002],[.748,.990],
[.750,1.000],[.752,.987],[.754,.995],[.756,1.005],[.758,.991],[.760,.998],[.762,.984],[.764,.996],[.766,1.002],[.768,.989],[.770,.994],[.772,.982],[.774,1.000],[.776,.992],[.778,.986],[.780,.997],[.782,.983],[.784,.993],[.786,1.001],[.788,.988],[.790,.981],[.792,.995],[.794,.989],[.796,.977],[.798,.993],
[.800,.985],[.802,.995],[.804,.978],[.806,.989],[.808,.983],[.810,.993],[.812,.974],[.814,.987],[.816,.980],[.818,.991],[.820,.984],[.822,.977],[.824,.988],[.826,.972],[.828,.986],[.830,.981],[.832,.990],[.834,.976],[.836,.983],[.838,.969],[.840,.986],[.842,.979],[.844,.973],[.846,.989],[.848,.976],
[.850,.978],[.852,.987],[.854,.970],[.856,.983],[.858,.975],[.860,.966],[.862,.981],[.864,.972],[.866,.978],[.868,.985],[.870,.963],[.872,.976],[.874,.970],[.876,.982],[.878,.967],[.880,.974],[.882,.979],[.884,.962],[.886,.972],[.888,.966],[.890,.980],[.892,.960],[.894,.974],[.896,.968],[.898,.978],
[.900,.965],[.902,.975],[.904,.959],[.906,.970],[.908,.978],[.910,.963],[.912,.967],[.914,.957],[.916,.974],[.918,.966],[.920,.962],[.922,.979],[.924,.968],[.926,.958],[.928,.972],[.930,.965],[.932,.977],[.934,.961],[.936,.970],[.938,.966],[.940,.976],[.942,.960],[.944,.971],[.946,.984],[.948,.967],
[.950,.978],[.952,.966],[.954,.972],[.956,.985],[.958,.969],[.960,.976],[.962,.963],[.964,.980],[.966,.973],[.968,.968],[.970,.983],[.972,.975],[.974,.962],[.976,.979],[.978,.971],[.980,.987],[.982,.966],[.984,.975],[.986,.981],[.988,.969],[.990,.977],[.992,.964],[.994,.984],[.996,.972],[.998,.979],
[.0025,.974],[.0065,.979],[.0105,.970],[.0145,.976],[.0185,.981],[.0225,.972],[.0265,.977],[.0305,.968],[.0345,.975],[.0385,.980],[.0425,.971],[.0465,.976],[.0505,.973],[.0545,.978],[.0585,.969],[.0625,.975],[.0665,.982],[.0705,.972],[.0745,.977],[.0785,.970],[.0825,.979],[.0865,.974],[.0905,.968],[.0945,.977],[.0985,.973],
[.1025,.979],[.1065,.971],[.1105,.976],[.1145,.981],[.1185,.973],[.1225,.968],[.1265,.977],[.1305,.974],[.1345,.980],[.1385,.971],[.1425,.975],[.1465,.983],[.1505,.972],[.1545,.977],[.1585,.974],[.1625,.980],[.1665,.971],[.1705,.978],[.1745,.984],[.1785,.975],[.1825,.979],[.1865,.973],[.1905,.982],[.1945,.977],[.1985,.986],
[.2025,.978],[.2065,.983],[.2105,.975],[.2145,.986],[.2185,.980],[.2225,.989],[.2265,.982],[.2305,.977],[.2345,.991],[.2385,.985],[.2425,.994],[.2465,.988],[.2505,.997],[.2545,.990],[.2585,.999],[.2625,.994],[.2665,1.003],[.2705,.997],[.2745,1.006],[.2785,1.000],[.2825,1.009],[.2865,1.004],[.2905,1.012],[.2945,1.006],[.2985,1.014],
[.3025,1.009],[.3065,1.016],[.3105,1.011],[.3145,1.019],[.3185,1.013],[.3225,1.020],[.3265,1.015],[.3305,1.023],[.3345,1.018],[.3385,1.025],[.3425,1.020],[.3465,1.027],[.3505,1.022],[.3545,1.028],[.3585,1.021],[.3625,1.030],[.3665,1.025],[.3705,1.031],[.3745,1.024],[.3785,1.032],[.3825,1.027],[.3865,1.034],[.3905,1.028],[.3945,1.033],[.3985,1.026],
[.4025,1.034],[.4065,1.029],[.4105,1.036],[.4145,1.030],[.4185,1.035],[.4225,1.028],[.4265,1.037],[.4305,1.031],[.4345,1.036],[.4385,1.029],[.4425,1.038],[.4465,1.032],[.4505,1.036],[.4545,1.030],[.4585,1.039],[.4625,1.033],[.4665,1.037],[.4705,1.029],[.4745,1.038],[.4785,1.032],[.4825,1.036],[.4865,1.030],[.4905,1.037],[.4945,1.033],[.4985,1.028],
[.5025,1.036],[.5065,1.031],[.5105,1.037],[.5145,1.029],[.5185,1.035],[.5225,1.030],[.5265,1.034],[.5305,1.027],[.5345,1.036],[.5385,1.030],[.5425,1.033],[.5465,1.026],[.5505,1.034],[.5545,1.029],[.5585,1.032],[.5625,1.024],[.5665,1.031],[.5705,1.027],[.5745,1.030],[.5785,1.022],[.5825,1.029],[.5865,1.025],[.5905,1.028],[.5945,1.020],[.5985,1.026],
[.6025,1.022],[.6065,1.027],[.6105,1.019],[.6145,1.024],[.6185,1.017],[.6225,1.023],[.6265,1.015],[.6305,1.021],[.6345,1.016],[.6385,1.020],[.6425,1.012],[.6465,1.018],[.6505,1.013],[.6545,1.017],[.6585,1.009],[.6625,1.015],[.6665,1.010],[.6705,1.014],[.6745,1.006],[.6785,1.012],[.6825,1.007],[.6865,1.011],[.6905,1.003],[.6945,1.009],[.6985,1.005],
[.7025,1.008],[.7065,1.001],[.7105,1.006],[.7145,.999],[.7185,1.005],[.7225,1.000],[.7265,1.003],[.7305,.995],[.7345,1.001],[.7385,.997],[.7425,1.000],[.7465,.993],[.7505,.998],[.7545,.994],[.7585,.997],[.7625,.989],[.7665,.995],[.7705,.991],[.7745,.994],[.7785,.986],[.7825,.992],[.7865,.988],[.7905,.991],[.7945,.983],[.7985,.989],
[.8025,.985],[.8065,.989],[.8105,.982],[.8145,.987],[.8185,.983],[.8225,.986],[.8265,.979],[.8305,.984],[.8345,.980],[.8385,.983],[.8425,.976],[.8465,.981],[.8505,.977],[.8545,.980],[.8585,.973],[.8625,.978],[.8665,.974],[.8705,.977],[.8745,.970],[.8785,.975],[.8825,.971],[.8865,.974],[.8905,.967],[.8945,.972],[.8985,.968],
[.9025,.971],[.9065,.965],[.9105,.970],[.9145,.966],[.9185,.969],[.9225,.963],[.9265,.968],[.9305,.965],[.9345,.970],[.9385,.966],[.9425,.972],[.9465,.968],[.9505,.974],[.9545,.970],[.9585,.976],[.9625,.971],[.9665,.977],[.9705,.973],[.9745,.978],[.9785,.972],[.9825,.977],[.9865,.974],[.9905,.979],[.9945,.973],[.9985,.977]
];
const phOutliers = [
[.46,1.118],[.293,1.091],[.642,1.092],[.17,1.082],[.952,1.084],[.339,1.069],[.385,1.069],[.537,1.066],[.756,1.066],[.586,1.060],[.373,1.057],[.402,1.057],[.404,1.055],[.477,1.054],[.443,1.055],[.552,1.056],[.65,1.054],[.297,1.053],[.76,1.051],[.25,1.048],[.412,1.048],[.685,1.047],[.69,1.046],[.114,1.042],[.147,1.042],[.093,1.038],[.845,1.038],[.717,1.037],[.722,1.037],[.18,1.035],[.195,1.032],[.20,1.032],[.22,1.025],[.788,1.030],[.85,1.015],[.27,1.016],[.108,1.009],[.947,1.009],[.019,1.007],[.98,1.005],[.04,.950],[.225,.963],[.879,.962],[.92,.952]
];

// ---------- drawing ----------
const FONT = '"Liberation Sans", Arial, Helvetica, sans-serif';
const svg = d3.select("#c");
const TOP = 70, BOT = 595;
const TICK_FS = 45, TITLE_FS = 46;

function drawPanel(o) {
  const x = o.x, y = o.y;
  const [x0, x1] = x.range();
  const g = svg.append("g");
  const clipId = "clip" + o.id;
  svg.append("clipPath").attr("id", clipId).append("rect")
    .attr("x", x0).attr("y", TOP).attr("width", x1 - x0).attr("height", BOT - TOP);
  const plot = g.append("g").attr("clip-path", `url(#${clipId})`);
  o.draw(plot, x, y);

  const blank = () => "";
  function mk(axis, tr, vals, size, fmt) {
    const a = g.append("g").attr("transform", tr)
      .call(axis.tickValues(vals).tickSize(size).tickSizeOuter(0).tickPadding(0).tickFormat(fmt || blank));
    a.select(".domain").remove();
    a.selectAll("line").attr("stroke", "#000").attr("stroke-width", 3);
    a.attr("font-family", FONT).attr("font-size", TICK_FS);
    a.selectAll("text").attr("fill", "#000");
    return a;
  }
  const bx = mk(d3.axisBottom(x), `translate(0,${BOT})`, o.xMajor, -11, o.xFmt);
  bx.selectAll("text").attr("y", 60).attr("dy", null);
  mk(d3.axisBottom(x), `translate(0,${BOT})`, o.xMinor, -6);
  mk(d3.axisTop(x), `translate(0,${TOP})`, o.xMajor, -11);
  mk(d3.axisTop(x), `translate(0,${TOP})`, o.xMinor, -6);
  const ly = mk(d3.axisLeft(y), `translate(${x0},0)`, o.yMajor, -11, o.yFmt);
  ly.selectAll("text").attr("x", -o.yPad).attr("dy", "0.36em");
  if (o.yAdjust) ly.selectAll(".tick text").attr("dy", d => o.yAdjust(d));
  mk(d3.axisLeft(y), `translate(${x0},0)`, o.yMinor, -6);
  mk(d3.axisRight(y), `translate(${x1},0)`, o.yMajor, -11);
  mk(d3.axisRight(y), `translate(${x1},0)`, o.yMinor, -6);

  g.append("rect").attr("x", x0).attr("y", TOP).attr("width", x1 - x0).attr("height", BOT - TOP)
    .attr("fill", "none").attr("stroke", "#000").attr("stroke-width", 4.5);

  g.append("text").attr("x", o.xTitleX).attr("y", 703).attr("text-anchor", "middle")
    .attr("font-family", FONT).attr("font-size", TITLE_FS).text(o.xTitle);
  g.append("text").attr("transform", `translate(${o.yTitleX},${(TOP + BOT) / 2}) rotate(-90)`)
    .attr("text-anchor", "middle").attr("font-family", FONT).attr("font-size", TITLE_FS).text(o.yTitle);
  return g;
}

function dots(sel, data, x, y, s) {
  sel.selectAll(null).data(data).enter().append("rect")
    .attr("x", d => x(d[0]) - s / 2).attr("y", d => y(d[1]) - s / 2)
    .attr("width", s).attr("height", s).attr("fill", "#000");
}

// Panel 1
const x1s = d3.scaleLinear().domain([-0.9, 72.5]).range([193, 568]);
const y1s = d3.scaleLinear().domain([2372, 3122]).range([BOT, TOP]);
drawPanel({
  id: 1, x: x1s, y: y1s,
  xMajor: lcTicksX, xMinor: lcMinorX, yMajor: lcTicksY, yMinor: lcMinorY,
  xFmt: d3.format("d"), yFmt: d3.format("d"), yPad: 17,
  xTitle: "times- 2228 (d)", xTitleX: 386, yTitle: "flux", yTitleX: 42,
  draw: (g, x, y) => { dots(g, lcPoints, x, y, 2.9); dots(g, lcOutliers, x, y, 2.5); }
});
const ann = svg.append("text").attr("x", 252).attr("y", 147).attr("font-family", FONT).attr("font-size", 38.5);
ann.append("tspan").text("(V-K)");
ann.append("tspan").attr("font-size", 24).attr("dy", 8).text("0");
ann.append("tspan").attr("dy", -8).text("= " + colorIndex);

// Panel 2
const x2s = d3.scaleLog().domain([0.05, 35]).range([894, 1269]);
const y2s = d3.scaleLinear().domain([0, 1200]).range([BOT, TOP]);
drawPanel({
  id: 2, x: x2s, y: y2s,
  xMajor: pgTicksX, xMinor: pgMinorX, yMajor: pgTicksY, yMinor: pgMinorY,
  xFmt: d => pgTickLabels[pgTicksX.indexOf(d)], yFmt: d3.format("d"), yPad: 14,
  yAdjust: d => d === 0 ? "0.04em" : d === 1200 ? "0.66em" : "0.36em",
  xTitle: "Period", xTitleX: 1081, yTitle: "Power", yTitleX: 738,
  draw: (g, x, y) => {
    const line = d3.line().x(d => x(d[0])).y(d => y(d[1]));
    g.append("path").datum(d3.zip(pgPeriod, pgPower)).attr("d", line)
      .attr("fill", "none").attr("stroke", "#000").attr("stroke-width", 3.5).attr("stroke-linejoin", "round");
  }
});

// Panel 3
const x3s = d3.scaleLinear().domain([0, 1]).range([1595, 1969]);
const y3s = d3.scaleLinear().domain([0.865, 1.136]).range([BOT, TOP]);
drawPanel({
  id: 3, x: x3s, y: y3s,
  xMajor: phTicksX, xMinor: phMinorX, yMajor: phTicksY, yMinor: phMinorY,
  xFmt: d => phTickLabels[phTicksX.indexOf(d)], yFmt: d => phTickLabelsY[phTicksY.indexOf(d)], yPad: 15,
  xTitle: "phase", xTitleX: 1782, yTitle: "relative flux", yTitleX: 1452,
  draw: (g, x, y) => { dots(g, phPoints, x, y, 2.9); dots(g, phOutliers, x, y, 2.5); }
});

// Title
svg.append("text").attr("x", 542).attr("y", 52).attr("font-family", FONT).attr("font-size", 58.5).text(titleId);
svg.append("text").attr("x", 1694).attr("y", 52).attr("font-family", FONT).attr("font-size", 58.5).text(titlePeriod);

// outer border (left, right, bottom)
svg.append("path").attr("d", "M1,0 V718 H2003.5 V0").attr("fill", "none").attr("stroke", "#000").attr("stroke-width", 2.7);
</script>
</body></html>
